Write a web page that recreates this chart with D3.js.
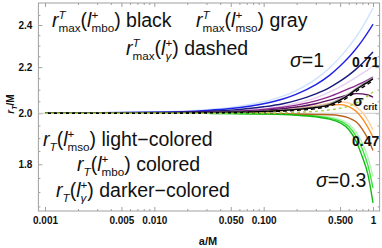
<!DOCTYPE html>
<html>
<head>
<meta charset="utf-8">
<script src="https://cdn.jsdelivr.net/npm/d3@7"></script>
<style>
  body { margin: 0; background: #fff; }
  text { font-family: 'Liberation Sans', Arial, sans-serif; }
</style>
</head>
<body>
<div id="chart"></div>
<script>
// spin a/M sample points (log axis)
var aVals = [0.001, 0.01, 0.03, 0.05, 0.1, 0.15, 0.2, 0.3, 0.4, 0.5, 0.6, 0.7, 0.8, 0.9, 1];

// sigma = 1 (blue)
var rMsoS1 = [2.0, 2.005, 2.0145, 2.024, 2.048, 2.072, 2.097, 2.146, 2.196, 2.246, 2.294, 2.342, 2.39, 2.438, 2.486];
var rMboS1 = [2.0, 2.004, 2.012, 2.02, 2.04, 2.06, 2.081, 2.122, 2.163, 2.205, 2.245, 2.285, 2.325, 2.365, 2.404];
var rGamS1 = [2.0, 2.003, 2.008, 2.013, 2.027, 2.04, 2.054, 2.082, 2.109, 2.137, 2.164, 2.191, 2.218, 2.245, 2.27];
// sigma = 0.71 (purple)
var rMsoS71 = [2.0, 2.002, 2.006, 2.01, 2.02, 2.03, 2.042, 2.065, 2.09, 2.112, 2.134, 2.154, 2.172, 2.189, 2.205];
var rMboS71 = [2.0, 2.0015, 2.005, 2.008, 2.016, 2.025, 2.034, 2.052, 2.07, 2.088, 2.104, 2.118, 2.131, 2.143, 2.155];
var rGamS71 = [2.0, 2.001, 2.004, 2.006, 2.012, 2.019, 2.026, 2.04, 2.055, 2.068, 2.078, 2.083, 2.082, 2.077, 2.068];
// sigma = 0.47 (orange)
var rMsoS47 = [2.0, 2.0005, 2.002, 2.004, 2.009, 2.014, 2.02, 2.032, 2.042, 2.047, 2.043, 2.027, 2.003, 1.97, 1.932];
var rMboS47 = [2.0, 2.0005, 2.002, 2.003, 2.007, 2.011, 2.016, 2.026, 2.034, 2.036, 2.028, 2.008, 1.978, 1.942, 1.903];
var rGamS47 = [2.0, 2.0, 2.0, 2.0, 1.999, 1.998, 1.997, 1.995, 1.994, 1.99, 1.981, 1.965, 1.935, 1.897, 1.852];
// sigma = 0.3 (green)
var rMsoS3 = [2.0, 2.0, 2.0, 1.9995, 1.9985, 1.997, 1.995, 1.99, 1.984, 1.974, 1.956, 1.924, 1.88, 1.825, 1.755];
var rMboS3 = [2.0, 2.0, 1.9997, 1.9993, 1.998, 1.9965, 1.994, 1.988, 1.98, 1.968, 1.946, 1.908, 1.857, 1.795, 1.714];
var rGamS3 = [2.0, 2.0, 1.9995, 1.999, 1.997, 1.995, 1.992, 1.985, 1.976, 1.961, 1.934, 1.888, 1.827, 1.761, 1.662];
// r_max^T curves and sigma_crit
var rMaxMso = [2.0, 2.0, 2.002, 2.004, 2.009, 2.013, 2.018, 2.027, 2.04, 2.06, 2.082, 2.105, 2.123, 2.139, 2.153];
var rMaxMbo = [2.0, 2.0, 2.002, 2.004, 2.008, 2.012, 2.016, 2.024, 2.035, 2.055, 2.077, 2.1, 2.118, 2.133, 2.147];
var rMaxGam = [2.0, 2.0, 2.0015, 2.003, 2.006, 2.009, 2.012, 2.019, 2.03, 2.048, 2.07, 2.092, 2.11, 2.125, 2.14];
var rCrit = [2.0, 2.0, 2.0, 2.0005, 2.001, 2.002, 2.004, 2.008, 2.014, 2.021, 2.03, 2.043, 2.057, 2.073, 2.09];

var xMajor = [0.001, 0.005, 0.01, 0.05, 0.1, 0.5, 1];
var xTickLabels = ['0.001', '0.005', '0.010', '0.050', '0.100', '0.500', '1'];
var yMajor = [1.8, 2.0, 2.2, 2.4];
var yTickLabels = ['1.8', '2.0', '2.2', '2.4'];

var W = 382, H = 248;
var plotL = 45, plotR = 373, plotT = 7, plotB = 207;
var fL = 38.4, fR = 379.6, fT = 3, fB = 211;

var x = d3.scaleLog().domain([0.001, 1]).range([plotL, plotR]);
var y = d3.scaleLog().domain([1.648, 2.491]).range([plotB, plotT]);

var svg = d3.select('#chart').append('svg')
  .attr('width', W).attr('height', H);

svg.append('defs').append('clipPath').attr('id', 'clip')
  .append('rect').attr('x', fL).attr('y', fT).attr('width', fR - fL).attr('height', fB - fT);

// minor ticks
var xMinor = [];
[0.001, 0.01, 0.1].forEach(function(d) {
  for (var k = 2; k <= 9; k++) { if (k !== 5) xMinor.push(d * k); }
});
var yMinor = [];
for (var v = 1.65; v <= 2.46; v += 0.05) {
  var r = Math.round(v * 100) / 100;
  if (Math.abs(r * 5 - Math.round(r * 5)) > 1e-6) yMinor.push(r);
}

var frameColor = '#a0a0a0';

function styleAxis(g) {
  g.select('.domain').remove();
  g.selectAll('line').attr('stroke', frameColor);
  g.selectAll('text').style('font-weight', 'bold').style('font-size', '10px').attr('fill', '#111');
}

svg.append('g').attr('transform', 'translate(0,' + fB + ')')
  .call(d3.axisBottom(x).tickValues(xMajor).tickFormat(function(d, i) { return xTickLabels[i]; })
    .tickSizeInner(-4).tickSizeOuter(0).tickPadding(6))
  .call(styleAxis);
svg.append('g').attr('transform', 'translate(0,' + fB + ')')
  .call(d3.axisBottom(x).tickValues(xMinor).tickFormat('').tickSizeInner(-2).tickSizeOuter(0))
  .call(styleAxis);
svg.append('g').attr('transform', 'translate(0,' + fT + ')')
  .call(d3.axisTop(x).tickValues(xMajor).tickFormat('').tickSizeInner(-4).tickSizeOuter(0))
  .call(styleAxis);
svg.append('g').attr('transform', 'translate(0,' + fT + ')')
  .call(d3.axisTop(x).tickValues(xMinor).tickFormat('').tickSizeInner(-2).tickSizeOuter(0))
  .call(styleAxis);

svg.append('g').attr('transform', 'translate(' + fL + ',0)')
  .call(d3.axisLeft(y).tickValues(yMajor).tickFormat(function(d, i) { return yTickLabels[i]; })
    .tickSizeInner(-4).tickSizeOuter(0).tickPadding(6))
  .call(styleAxis);
svg.append('g').attr('transform', 'translate(' + fL + ',0)')
  .call(d3.axisLeft(y).tickValues(yMinor).tickFormat('').tickSizeInner(-2).tickSizeOuter(0))
  .call(styleAxis);
svg.append('g').attr('transform', 'translate(' + fR + ',0)')
  .call(d3.axisRight(y).tickValues(yMajor).tickFormat('').tickSizeInner(-4).tickSizeOuter(0))
  .call(styleAxis);
svg.append('g').attr('transform', 'translate(' + fR + ',0)')
  .call(d3.axisRight(y).tickValues(yMinor).tickFormat('').tickSizeInner(-2).tickSizeOuter(0))
  .call(styleAxis);

svg.append('rect')
  .attr('x', fL).attr('y', fT).attr('width', fR - fL).attr('height', fB - fT)
  .attr('fill', 'none').attr('stroke', frameColor).attr('stroke-width', 1);

// axis line at r = 2
svg.append('line')
  .attr('x1', fL).attr('x2', fR).attr('y1', y(2)).attr('y2', y(2))
  .attr('stroke', '#c8c8c8').attr('stroke-width', 1);

var series = [
  { v: rMsoS1, c: '#cfe2ff' }, { v: rMsoS71, c: '#ead0f0' }, { v: rMsoS47, c: '#ffcf9c' }, { v: rMsoS3, c: '#b4f2b4' },
  { v: rMboS1, c: '#1f22e8' }, { v: rMboS71, c: '#8e2a8e' }, { v: rMboS47, c: '#ff8a1c' }, { v: rMboS3, c: '#3fe03f' },
  { v: rGamS1, c: '#1a1a7e' }, { v: rGamS71, c: '#5a1260' }, { v: rGamS47, c: '#b8661e' }, { v: rGamS3, c: '#12bb12' },
  { v: rMaxMso, c: '#9a9a9a' },
  { v: rMaxMbo, c: '#000000' },
  { v: rMaxGam, c: '#000000', dash: '4,3' },
  { v: rCrit, c: '#a8d040', dash: '3,3' }
];

var line = d3.line()
  .x(function(d, i) { return x(aVals[i]); })
  .y(function(d) { return y(d); })
  .curve(d3.curveMonotoneX);

svg.append('g').attr('clip-path', 'url(#clip)')
  .selectAll('path')
  .data(series)
  .enter()
  .append('path')
  .attr('d', function(d) { return line(d.v); })
  .attr('fill', 'none')
  .attr('stroke', function(d) { return d.c; })
  .attr('stroke-width', 1.4)
  .attr('stroke-dasharray', function(d) { return d.dash || null; });

// one <text> per label, tspans for sub/superscripts placed by measuring
function rich(x0, y0, parts, size) {
  var t = svg.append('text').attr('fill', '#111');
  var cx = x0, held = 0;
  parts.forEach(function(p) {
    var small = p.pos === 'sub' || p.pos === 'sup';
    var fs = small ? size * 0.6 : size;
    var dy = p.pos === 'sub' ? size * 0.27 : (p.pos === 'sup' ? -size * 0.42 : 0);
    var s = t.append('tspan')
      .attr('x', cx).attr('y', y0 + dy)
      .style('font-size', fs + 'px')
      .style('font-style', p.it ? 'italic' : 'normal')
      .style('font-weight', p.b ? 'bold' : 'normal')
      .text(p.t);
    var w = s.node().getComputedTextLength();
    if (p.stack) { held = w; } else { cx += Math.max(w, held); held = 0; }
  });
}

var fs = 19.5;
rich(52, 27, [{t: 'r', it: 1}, {t: 'T', it: 1, pos: 'sup', stack: 1}, {t: 'max', pos: 'sub'}, {t: '('},
  {t: 'l', it: 1}, {t: '+', pos: 'sup', stack: 1}, {t: 'mbo', pos: 'sub'}, {t: ')\u00a0black'}], fs);
rich(196, 27, [{t: 'r', it: 1}, {t: 'T', it: 1, pos: 'sup', stack: 1}, {t: 'max', pos: 'sub'}, {t: '('},
  {t: 'l', it: 1}, {t: '+', pos: 'sup', stack: 1}, {t: 'mso', pos: 'sub'}, {t: ')\u00a0gray'}], fs);
rich(126, 55, [{t: 'r', it: 1}, {t: 'T', it: 1, pos: 'sup', stack: 1}, {t: 'max', pos: 'sub'}, {t: '('},
  {t: 'l', it: 1}, {t: '+', pos: 'sup', stack: 1}, {t: '\u03b3', it: 1, pos: 'sub'}, {t: ')\u00a0dashed'}], fs);

rich(43, 146, [{t: 'r', it: 1}, {t: 'T', it: 1, pos: 'sub'}, {t: '('},
  {t: 'l', it: 1}, {t: '+', pos: 'sup', stack: 1}, {t: 'mso', pos: 'sub'}, {t: ')\u00a0light\u2212colored'}], fs);
rich(77, 171, [{t: 'r', it: 1}, {t: 'T', it: 1, pos: 'sub'}, {t: '('},
  {t: 'l', it: 1}, {t: '+', pos: 'sup', stack: 1}, {t: 'mbo', pos: 'sub'}, {t: ')\u00a0colored'}], fs);
rich(56, 197, [{t: 'r', it: 1}, {t: 'T', it: 1, pos: 'sub'}, {t: '('},
  {t: 'l', it: 1}, {t: '+', pos: 'sup', stack: 1}, {t: '\u03b3', it: 1, pos: 'sub'}, {t: ')\u00a0darker\u2212colored'}], fs);

rich(290, 67, [{t: '\u03c3', it: 1}, {t: '=1'}], fs);
rich(316, 187, [{t: '\u03c3', it: 1}, {t: '=0.3'}], fs);
rich(352, 67, [{t: '0.71', b: 1}], 14);
rich(352, 146, [{t: '0.47', b: 1}], 14);
rich(353, 106, [{t: '\u03c3', b: 1}, {t: 'crit', b: 1, pos: 'sub'}], 15);

// axis titles
svg.append('text')
  .attr('x', 208).attr('y', 245).attr('text-anchor', 'middle')
  .style('font-size', '11px').style('font-weight', 'bold').attr('fill', '#111')
  .text('a/M');
var yl = svg.append('text')
  .attr('transform', 'translate(14,104) rotate(-90)')
  .attr('text-anchor', 'middle')
  .style('font-size', '10px').style('font-weight', 'bold').attr('fill', '#111');
yl.append('tspan').style('font-style', 'italic').text('r');
yl.append('tspan').attr('dy', 3).style('font-size', '7px').style('font-style', 'italic').text('T');
yl.append('tspan').attr('dy', -3).text('/M');
</script>
</body>
</html>
